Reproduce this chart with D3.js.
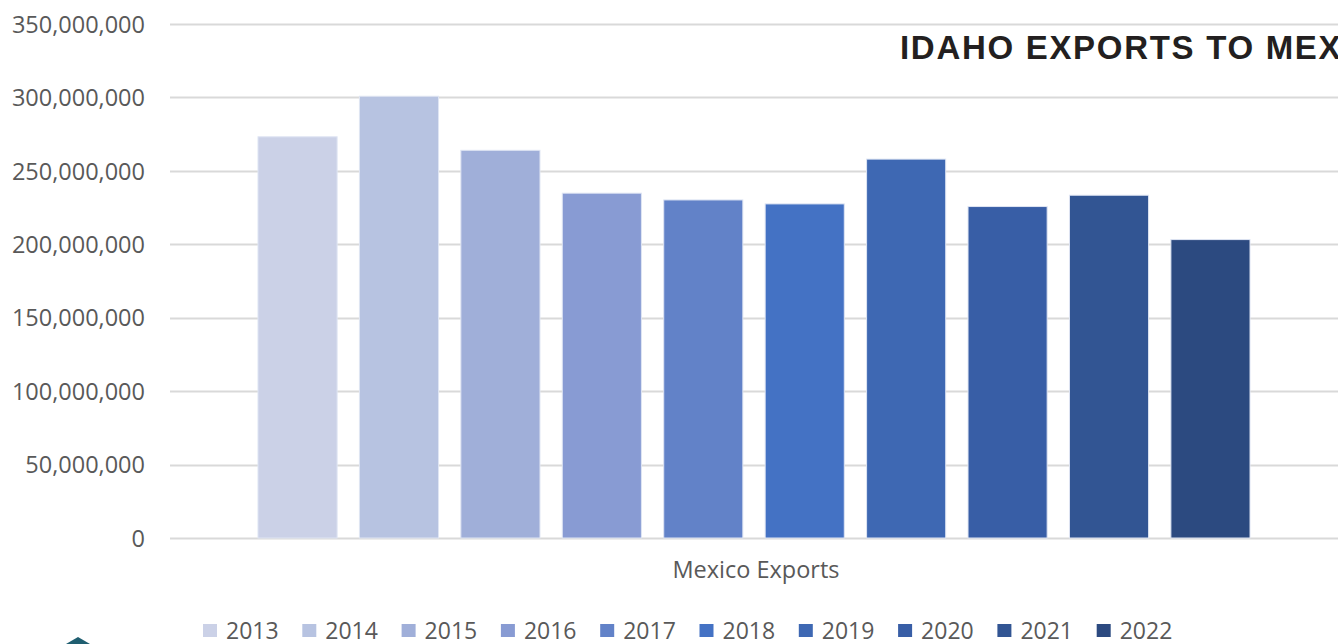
<!DOCTYPE html>
<html>
<head>
<meta charset="utf-8">
<script src="https://cdn.jsdelivr.net/npm/d3@7"></script>
<style>
  body { margin: 0; background: #fff; overflow: hidden; }
  svg { display: block; }
</style>
</head>
<body>
<script>
// data
var years = ["2013", "2014", "2015", "2016", "2017", "2018", "2019", "2020", "2021", "2022"];
var exportsValues = [273200000, 300800000, 264000000, 234800000, 230200000, 227500000, 258000000, 225700000, 233400000, 203200000];
var barColors = ["#cbd1e7", "#b7c3e1", "#a0afd9", "#889bd3", "#6282c8", "#4472c4", "#3e68b3", "#385ea6", "#325593", "#2c4a80"];
var yTicks = [0, 50000000, 100000000, 150000000, 200000000, 250000000, 300000000, 350000000];
var category = "Mexico Exports";
var title = "IDAHO EXPORTS TO MEXICO";

var W = 1338, H = 644;
var margin = {top: 24, right: 0, bottom: 106, left: 170},
    width = W - margin.left - margin.right,
    height = H - margin.top - margin.bottom;

var svg = d3.select("body").append("svg")
    .attr("width", W)
    .attr("height", H);

var g = svg.append("g")
    .attr("transform", "translate(" + margin.left + "," + margin.top + ")");

var y = d3.scaleLinear().domain([0, 350000000]).range([height, 0]);

// outer band for the single category, inner band for the years
var x0 = d3.scaleBand().domain([category]).range([0, width]).paddingInner(0).paddingOuter(0.0887);
var x1 = d3.scaleBand().domain(years).range([0, x0.bandwidth()]).paddingInner(0.22).paddingOuter(0);

var fmt = d3.format(",");
var font = "'Open Sans', sans-serif";

// gridlines
g.append("g")
    .selectAll("line")
    .data(yTicks)
    .enter()
    .append("line")
    .attr("x1", 0)
    .attr("x2", width)
    .attr("y1", function(d) { return Math.round(y(d)) + 0.5; })
    .attr("y2", function(d) { return Math.round(y(d)) + 0.5; })
    .attr("stroke", "#d9d9d9")
    .attr("stroke-width", 2);

// y axis labels
var yAxis = g.append("g")
    .attr("transform", "translate(-25,0)")
    .call(d3.axisLeft(y).tickValues(yTicks).tickFormat(fmt).tickSize(0).tickPadding(0));
yAxis.select(".domain").remove();
yAxis.selectAll("text")
    .attr("fill", "#595959")
    .style("font-family", font)
    .style("font-size", "23.5px")
    .attr("dy", "0.35em");

// title, runs off the right edge like the picture
svg.append("text")
    .attr("x", 900)
    .attr("y", 59)
    .attr("fill", "#231f20")
    .style("font-family", "'Liberation Sans', Arial, sans-serif")
    .style("font-weight", "bold")
    .style("font-size", "33px")
    .style("letter-spacing", "1.7px")
    .text(title);

// bars
var cat = g.append("g")
    .attr("transform", "translate(" + x0(category) + ",0)");

cat.selectAll("rect")
    .data(exportsValues)
    .enter()
    .append("rect")
    .attr("x", function(d, i) { return x1(years[i]); })
    .attr("y", function(d) { return y(d); })
    .attr("width", x1.bandwidth())
    .attr("height", function(d) { return y(0) - y(d); })
    .attr("fill", function(d, i) { return barColors[i]; })
    .attr("stroke", "#dfe5f3")
    .attr("stroke-width", 1);

// category label
g.append("text")
    .attr("x", x0(category) + x0.bandwidth() / 2 + 2)
    .attr("y", height + 40)
    .attr("text-anchor", "middle")
    .attr("fill", "#595959")
    .style("font-family", font)
    .style("font-size", "23.5px")
    .text(category);

// legend
var legend = svg.append("g")
    .attr("transform", "translate(203,624)");

var item = legend.selectAll("g")
    .data(years)
    .enter()
    .append("g")
    .attr("transform", function(d, i) { return "translate(" + (i * 99.3) + ",0)"; });

item.append("rect")
    .attr("width", 14)
    .attr("height", 13)
    .attr("fill", function(d, i) { return barColors[i]; });

item.append("text")
    .attr("x", 23)
    .attr("y", 15)
    .attr("fill", "#595959")
    .style("font-family", font)
    .style("font-size", "23px")
    .text(function(d) { return d; });

// corner of the logo peeking in at the bottom
svg.append("path")
    .attr("d", "M66,644 L78,637 L90,644 Z")
    .attr("fill", "#1f5e70");
</script>
</body>
</html>
